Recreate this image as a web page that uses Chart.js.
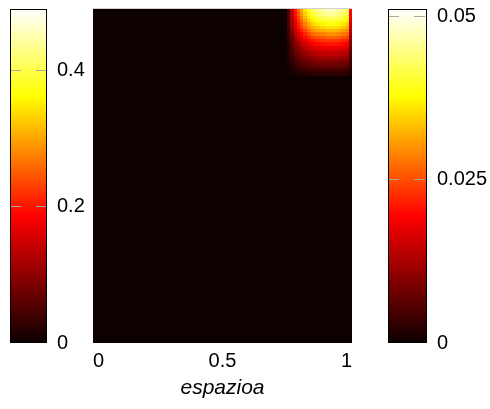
<!DOCTYPE html>
<html>
<head>
<meta charset="utf-8">
<script src="https://cdn.jsdelivr.net/npm/chart.js@4.4.1/dist/chart.umd.min.js"></script>
<style>
  html, body { margin: 0; padding: 0; background: #fff; }
  #wrap { position: relative; width: 490px; height: 409px; }
  #wrap canvas { position: absolute; left: 0; top: 0; }
</style>
</head>
<body>
<div id="wrap">
  <canvas id="barLeft" width="490" height="409"></canvas>
  <canvas id="mapa" width="490" height="409"></canvas>
  <canvas id="barRight" width="490" height="409"></canvas>
</div>
<script>
// ---------- Datos ----------
const X_TICKS     = [0, 0.5, 1];
const LEFT_TICKS  = [0, 0.2, 0.4];
const LEFT_MAX    = 0.491;
const RIGHT_TICKS = [0, 0.025, 0.05];
const RIGHT_MAX   = 0.0512;
const X_TITLE     = "espazioa";

// bordes de las celdas (zona caliente arriba a la derecha)
const COL_EDGES = [0.75, 0.7625, 0.775, 0.7875, 0.8, 0.8125, 0.825, 0.8375, 0.85, 0.8625, 0.875,
                   0.8875, 0.9, 0.9125, 0.925, 0.9375, 0.95, 0.9625, 0.975, 0.9875, 1.0];
const ROW_EDGES = [0.5, 0.495, 0.49, 0.485, 0.48, 0.475, 0.47, 0.465, 0.46, 0.455, 0.45,
                   0.445, 0.44, 0.435, 0.43, 0.425, 0.42, 0.415, 0.41, 0.405, 0.4];

// valores por fila (de arriba hacia abajo), una columna por celda
const VALORES = [
  [0.0057, 0.0143, 0.0214, 0.0267, 0.0314, 0.0357, 0.0390, 0.0419, 0.0438, 0.0452, 0.0462, 0.0466, 0.0476, 0.0476, 0.0476, 0.0471, 0.0462, 0.0447, 0.0428, 0.0200],
  [0.0055, 0.0137, 0.0205, 0.0255, 0.0301, 0.0342, 0.0374, 0.0401, 0.0420, 0.0433, 0.0442, 0.0447, 0.0456, 0.0456, 0.0456, 0.0451, 0.0442, 0.0429, 0.0410, 0.0192],
  [0.0052, 0.0131, 0.0196, 0.0244, 0.0287, 0.0326, 0.0357, 0.0383, 0.0400, 0.0413, 0.0422, 0.0426, 0.0435, 0.0435, 0.0435, 0.0431, 0.0422, 0.0409, 0.0392, 0.0183],
  [0.0049, 0.0123, 0.0185, 0.0230, 0.0271, 0.0308, 0.0336, 0.0361, 0.0377, 0.0390, 0.0398, 0.0402, 0.0410, 0.0410, 0.0410, 0.0406, 0.0398, 0.0385, 0.0369, 0.0172],
  [0.0046, 0.0115, 0.0173, 0.0215, 0.0253, 0.0288, 0.0315, 0.0338, 0.0353, 0.0365, 0.0372, 0.0376, 0.0384, 0.0384, 0.0384, 0.0380, 0.0372, 0.0361, 0.0346, 0.0161],
  [0.0043, 0.0107, 0.0161, 0.0200, 0.0236, 0.0269, 0.0294, 0.0315, 0.0329, 0.0340, 0.0347, 0.0351, 0.0358, 0.0358, 0.0358, 0.0354, 0.0347, 0.0337, 0.0322, 0.0150],
  [0.0039, 0.0098, 0.0148, 0.0184, 0.0216, 0.0246, 0.0269, 0.0289, 0.0302, 0.0312, 0.0318, 0.0321, 0.0328, 0.0328, 0.0328, 0.0325, 0.0318, 0.0308, 0.0295, 0.0138],
  [0.0036, 0.0089, 0.0134, 0.0166, 0.0196, 0.0223, 0.0244, 0.0261, 0.0273, 0.0282, 0.0288, 0.0291, 0.0297, 0.0297, 0.0297, 0.0294, 0.0288, 0.0279, 0.0267, 0.0125],
  [0.0032, 0.0080, 0.0120, 0.0149, 0.0176, 0.0200, 0.0218, 0.0234, 0.0245, 0.0253, 0.0258, 0.0261, 0.0266, 0.0266, 0.0266, 0.0263, 0.0258, 0.0250, 0.0239, 0.0112],
  [0.0028, 0.0071, 0.0106, 0.0132, 0.0156, 0.0177, 0.0194, 0.0208, 0.0217, 0.0224, 0.0229, 0.0231, 0.0236, 0.0236, 0.0236, 0.0234, 0.0229, 0.0222, 0.0212, 0.0099],
  [0.0025, 0.0063, 0.0095, 0.0118, 0.0139, 0.0158, 0.0172, 0.0185, 0.0193, 0.0200, 0.0204, 0.0206, 0.0210, 0.0210, 0.0210, 0.0208, 0.0204, 0.0197, 0.0189, 0.0088],
  [0.0022, 0.0055, 0.0083, 0.0103, 0.0121, 0.0138, 0.0151, 0.0162, 0.0169, 0.0175, 0.0178, 0.0180, 0.0184, 0.0184, 0.0184, 0.0182, 0.0178, 0.0173, 0.0166, 0.0077],
  [0.0020, 0.0049, 0.0074, 0.0092, 0.0108, 0.0123, 0.0134, 0.0144, 0.0151, 0.0156, 0.0159, 0.0161, 0.0164, 0.0164, 0.0164, 0.0162, 0.0159, 0.0154, 0.0148, 0.0069],
  [0.0017, 0.0043, 0.0064, 0.0080, 0.0094, 0.0107, 0.0117, 0.0126, 0.0132, 0.0136, 0.0139, 0.0140, 0.0143, 0.0143, 0.0143, 0.0142, 0.0139, 0.0134, 0.0129, 0.0060],
  [0.0015, 0.0037, 0.0055, 0.0069, 0.0081, 0.0092, 0.0101, 0.0108, 0.0113, 0.0117, 0.0119, 0.0121, 0.0123, 0.0123, 0.0123, 0.0122, 0.0119, 0.0116, 0.0111, 0.0052],
  [0.0012, 0.0031, 0.0046, 0.0057, 0.0067, 0.0077, 0.0084, 0.0090, 0.0094, 0.0097, 0.0099, 0.0100, 0.0102, 0.0102, 0.0102, 0.0101, 0.0099, 0.0096, 0.0092, 0.0043],
  [0.0010, 0.0025, 0.0037, 0.0046, 0.0054, 0.0062, 0.0067, 0.0072, 0.0075, 0.0078, 0.0080, 0.0080, 0.0082, 0.0082, 0.0082, 0.0081, 0.0080, 0.0077, 0.0074, 0.0034],
  [0.0007, 0.0018, 0.0027, 0.0034, 0.0040, 0.0046, 0.0050, 0.0054, 0.0056, 0.0058, 0.0059, 0.0060, 0.0061, 0.0061, 0.0061, 0.0060, 0.0059, 0.0057, 0.0055, 0.0026],
  [0.0005, 0.0012, 0.0018, 0.0023, 0.0027, 0.0031, 0.0034, 0.0036, 0.0038, 0.0039, 0.0040, 0.0040, 0.0041, 0.0041, 0.0041, 0.0041, 0.0040, 0.0039, 0.0037, 0.0017],
  [0.0003, 0.0008, 0.0012, 0.0015, 0.0017, 0.0020, 0.0021, 0.0023, 0.0024, 0.0025, 0.0025, 0.0025, 0.0026, 0.0026, 0.0026, 0.0026, 0.0025, 0.0024, 0.0023, 0.0011]
];

// ---------- Paleta (negro -> rojo -> amarillo -> blanco) ----------
const CMAP_POS = [0, 0.38, 0.74, 1];
const CMAP_RGB = [[12, 0, 0], [255, 0, 0], [255, 255, 0], [255, 255, 255]];

function colorFor(t) {
  t = Math.max(0, Math.min(1, t));
  let i = 0;
  while (i < CMAP_POS.length - 2 && t > CMAP_POS[i + 1]) i++;
  const f = (t - CMAP_POS[i]) / (CMAP_POS[i + 1] - CMAP_POS[i]);
  const a = CMAP_RGB[i], b = CMAP_RGB[i + 1];
  const c = a.map((v, k) => Math.round(v + (b[k] - v) * f));
  return `rgb(${c[0]},${c[1]},${c[2]})`;
}

Chart.defaults.font.family = "'Liberation Sans', Arial, sans-serif";
Chart.defaults.font.size = 20;
Chart.defaults.color = "#000";

const TICK_GRAY = "#a8a8a8";
const fmtTick = v => String(v);

// marco negro alrededor de las barras de color
const framePlugin = {
  id: "frame",
  afterDraw(chart) {
    const { ctx, chartArea: a } = chart;
    ctx.save();
    ctx.strokeStyle = "#000";
    ctx.lineWidth = 1;
    ctx.strokeRect(a.left + 0.5, a.top + 0.5, a.right - a.left - 1, a.bottom - a.top - 1);
    ctx.restore();
  }
};

// ---------- Barra de color ----------
function makeColorbar(id, max, ticks, pad) {
  return new Chart(document.getElementById(id), {
    type: "bar",
    data: {
      labels: ["c"],
      datasets: [{
        data: [[0, max]],
        borderWidth: 0,
        barPercentage: 1,
        categoryPercentage: 1,
        backgroundColor(ctx) {
          const area = ctx.chart.chartArea;
          if (!area) return "#000";
          const g = ctx.chart.ctx.createLinearGradient(0, area.bottom, 0, area.top);
          CMAP_POS.forEach(p => g.addColorStop(p, colorFor(p)));
          return g;
        }
      }]
    },
    options: {
      responsive: false,
      animation: false,
      layout: { padding: pad },
      plugins: { legend: { display: false }, tooltip: { enabled: false } },
      scales: {
        x: { display: false },
        y: {
          position: "right",
          min: 0,
          max: max,
          afterBuildTicks: s => { s.ticks = ticks.map(v => ({ value: v })); },
          afterFit: s => { s.width = pad.axis; s.paddingTop = 0; s.paddingBottom = 0; },
          ticks: { padding: 10, font: { size: 20 }, callback: fmtTick },
          border: { display: false, dash: [11, 15] },
          grid: {
            z: 1,
            drawTicks: false,
            lineWidth: 1,
            color: ctx => (ctx.tick && ctx.tick.value === 0) ? "rgba(0,0,0,0)" : TICK_GRAY
          }
        }
      }
    },
    plugins: [framePlugin]
  });
}

makeColorbar("barLeft", LEFT_MAX, LEFT_TICKS, { left: 10, right: 403, top: 9, bottom: 66, axis: 40 });
makeColorbar("barRight", RIGHT_MAX, RIGHT_TICKS, { left: 388, right: 3, top: 9, bottom: 66, axis: 60 });

// ---------- Mapa de calor ----------
const celdas = [{ x0: 0, x1: 1, y0: 0, y1: 0.5, v: 0 }];   // fondo con valor 0
VALORES.forEach((fila, j) => {
  fila.forEach((v, i) => {
    celdas.push({ x0: COL_EDGES[i], x1: COL_EDGES[i + 1], y0: ROW_EDGES[j + 1], y1: ROW_EDGES[j], v });
  });
});

const heatPlugin = {
  id: "heat",
  beforeDatasetsDraw(chart) {
    const { ctx, scales: { x, y } } = chart;
    ctx.save();
    chart.data.datasets[0].data.forEach(c => {
      const l = Math.round(x.getPixelForValue(c.x0));
      const r = Math.round(x.getPixelForValue(c.x1));
      const t = Math.round(y.getPixelForValue(c.y1));
      const b = Math.round(y.getPixelForValue(c.y0));
      ctx.fillStyle = colorFor(c.v / RIGHT_MAX);
      ctx.fillRect(l, t, r - l, b - t);
    });
    // línea gris del borde superior
    const a = chart.chartArea;
    ctx.strokeStyle = "#cfcfcf";
    ctx.lineWidth = 1;
    ctx.beginPath();
    ctx.moveTo(a.left, a.top - 0.5);
    ctx.lineTo(a.right, a.top - 0.5);
    ctx.stroke();
    ctx.restore();
  }
};

new Chart(document.getElementById("mapa"), {
  type: "scatter",
  data: {
    datasets: [{
      data: celdas.map(c => ({ x: (c.x0 + c.x1) / 2, y: (c.y0 + c.y1) / 2, ...c })),
      pointRadius: 0
    }]
  },
  options: {
    responsive: false,
    animation: false,
    layout: { padding: { left: 93, right: 138, top: 9, bottom: 0 } },
    plugins: { legend: { display: false }, tooltip: { enabled: false } },
    scales: {
      x: {
        type: "linear",
        min: 0,
        max: 1,
        afterBuildTicks: s => { s.ticks = X_TICKS.map(v => ({ value: v })); },
        afterFit: s => { s.height = 66; },
        ticks: { align: "inner", padding: 6, font: { size: 20 }, callback: fmtTick },
        grid: { display: false, drawTicks: false },
        border: { display: false },
        title: {
          display: true,
          text: X_TITLE,
          padding: { top: 4, bottom: 8 },
          font: { size: 21, style: "italic" }
        }
      },
      y: { display: false, min: 0, max: 0.5 }
    }
  },
  plugins: [heatPlugin]
});
</script>
</body>
</html>
